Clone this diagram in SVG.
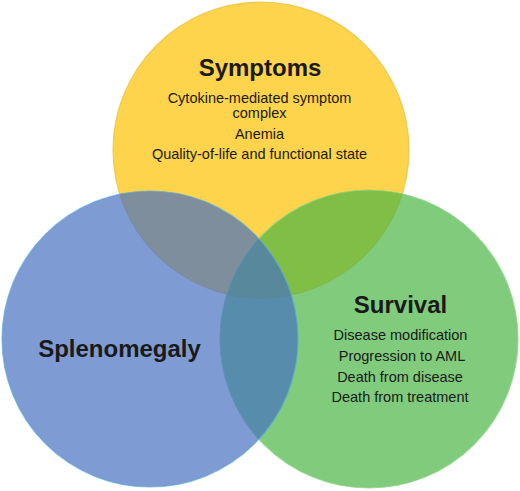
<svg xmlns="http://www.w3.org/2000/svg" width="520" height="491" viewBox="0 0 520 491">
<style>
  .title { font-family: "Liberation Sans", Arial, sans-serif; font-weight: bold; font-size: 24px; fill: #1a1a1a; text-anchor: middle; }
  .item { font-family: "Liberation Sans", Arial, sans-serif; font-size: 14.5px; fill: #1a1a1a; text-anchor: middle; }
  .circ { stroke-width: 1.2; }
</style>
<rect width="520" height="491" fill="#ffffff"/>
<g id="symptoms">
  <circle class="circ" cx="261" cy="150" r="148" fill="#FDD44C" stroke="#E8BE3A" stroke-opacity="0.7"/>
</g>
<g id="survival">
  <circle class="circ" cx="369" cy="339" r="149" fill="#4AB544" fill-opacity="0.7" stroke="#8ED68A" stroke-opacity="0.8"/>
</g>
<g id="splenomegaly">
  <circle class="circ" cx="150" cy="339" r="148" fill="#4770C0" fill-opacity="0.7" stroke="#5AA8D8" stroke-opacity="0.7"/>
</g>
<g id="labels">
  <text class="title" x="260" y="76">Symptoms</text>
  <text class="item" x="259.5" y="103">Cytokine-mediated symptom</text>
  <text class="item" x="259.5" y="118">complex</text>
  <text class="item" x="259.5" y="139">Anemia</text>
  <text class="item" x="259.5" y="159">Quality-of-life and functional state</text>
  <text class="title" x="119.5" y="357">Splenomegaly</text>
  <text class="title" x="400.5" y="313">Survival</text>
  <text class="item" x="400.5" y="340">Disease modification</text>
  <text class="item" x="402" y="361">Progression to AML</text>
  <text class="item" x="400" y="382">Death from disease</text>
  <text class="item" x="400" y="402">Death from treatment</text>
</g>
</svg>
